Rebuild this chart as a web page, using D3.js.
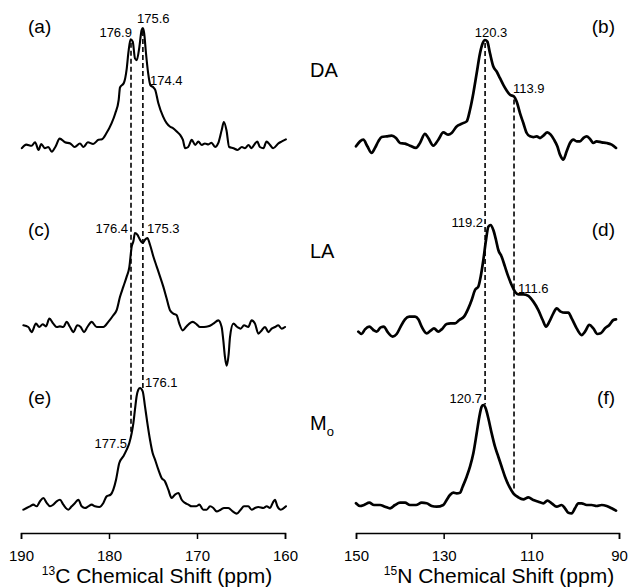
<!DOCTYPE html>
<html><head><meta charset="utf-8">
<script src="https://cdn.jsdelivr.net/npm/d3@7"></script>
<style>html,body{margin:0;padding:0;background:#fff;}svg{display:block;font-family:"Liberation Sans",Arial,Helvetica,sans-serif;}</style>
</head><body>
<svg id="chart" width="631" height="588"></svg>
<script>
// ---------- DATA ----------
const ticksC = [190, 180, 170, 160];
const ticksN = [150, 130, 110, 90];
const titleC = ["13", "C Chemical Shift (ppm)"];
const titleN = ["15", "N Chemical Shift (ppm)"];
const rowLabels = ["DA", "LA", "M"];
const panelLetters = ["(a)", "(b)", "(c)", "(d)", "(e)", "(f)"];

// [ppm, relative intensity]
const specA = [[189.9,-1],[189.4,2],[188.8,1],[188.4,4],[188.0,-2.5],[187.7,2.5],[187.3,-1],[186.9,0],[186.5,-4],[186.1,0],[185.6,7],[185.0,4],[184.4,3],[183.9,0],[183.3,3],[182.9,0],[182.4,4],[181.8,2.5],[181.2,6],[180.8,6.5],[180.3,11.5],[179.7,20],[179.3,28],[178.9,39.5],[178.75,50],[178.3,54],[178.0,65],[177.8,79],[177.55,90.5],[177.3,88.5],[177.05,74.5],[176.85,73],[176.55,84],[176.3,98],[176.15,100],[176.0,95.5],[175.8,79],[175.55,62],[175.3,52],[174.95,50],[174.75,48],[174.4,37],[173.85,25.5],[173.45,20],[173.05,17],[172.7,15.7],[172.3,13],[171.9,10],[171.6,6],[171.35,-1],[171.0,0],[170.6,6],[170.2,1.7],[169.85,4.5],[169.45,1.7],[169.1,3],[168.7,2.2],[168.35,3.6],[167.95,0],[167.6,3],[167.2,14],[166.95,21],[166.65,14],[166.35,0],[165.85,-1],[165.4,-2.5],[164.9,0],[164.55,-1],[164.15,1.7],[163.8,-1],[163.4,3],[163.15,4.5],[162.85,0],[162.45,-1],[162.1,4.5],[161.7,1.7],[161.35,-1],[160.75,3],[160.4,4.5],[159.9,6.4]];

const specC = [[189.73,1.8],[189.17,0],[188.79,-5.4],[188.3,3.6],[187.92,0],[187.54,2.9],[187.16,0.7],[186.78,8.9],[186.33,3.6],[185.95,0],[185.57,0.7],[185.19,0],[184.81,5.4],[184.43,0],[184.05,-5.4],[183.6,1.8],[183.22,0],[182.84,-5.4],[182.46,0],[181.97,5.4],[181.4,0],[180.64,0],[180.08,5.4],[179.51,12.5],[179.13,17.9],[178.75,32.1],[178.37,42.9],[177.99,53.6],[177.69,63.6],[177.42,85.7],[177.23,91.1],[177.05,100],[176.78,98.2],[176.48,92.9],[176.17,89.3],[175.91,92.9],[175.64,94.6],[175.34,87.5],[174.96,75],[174.58,64.3],[174.2,53.6],[173.83,42.9],[173.45,30.4],[173.07,17.9],[172.69,14.3],[172.31,12.5],[172.01,3.6],[171.63,-3.6],[171.25,0],[170.87,3.6],[170.49,5.4],[170.04,2.9],[169.66,0],[169.2,0],[168.71,0.7],[168.14,3.6],[167.58,7.1],[167.2,0],[167.01,-14.3],[166.82,-32.1],[166.63,-41.1],[166.4,-28.6],[166.25,-10.7],[165.87,3.6],[165.42,0],[165.04,-1.8],[164.66,1.8],[164.17,0],[163.79,7.1],[163.41,3.6],[163.03,-7.1],[162.65,-3.6],[162.27,0],[161.89,-5.4],[161.52,-1.8],[161.14,0],[160.76,1.8],[160.38,-1.8],[160.0,0]];

const specE = [[189.73,-1.4],[189.36,0],[188.98,1.4],[188.6,2.8],[188.22,1.4],[187.84,5.6],[187.46,8.3],[187.08,4.2],[186.7,1.4],[186.33,2.8],[185.95,5.6],[185.57,6.9],[185.19,2.8],[184.62,-1.4],[184.24,1.4],[183.86,4.2],[183.48,6.9],[183.11,1.4],[182.73,0],[182.35,1.4],[181.97,2.8],[181.59,1.4],[181.1,0.8],[180.64,4.2],[180.27,9.7],[179.81,11.1],[179.51,15.3],[179.2,23.6],[178.83,37.5],[178.37,43.1],[177.99,48.6],[177.69,54.2],[177.42,62.5],[177.23,70.8],[177.05,81.9],[176.86,93.1],[176.67,98.6],[176.48,100],[176.17,97.2],[175.91,84.7],[175.64,70.8],[175.34,56.9],[175.04,45.8],[174.77,40.3],[174.39,31.9],[174.02,25],[173.64,22.2],[173.26,15.3],[172.88,8.3],[172.5,11.1],[172.12,12.5],[171.74,6.9],[171.36,4.2],[170.98,2.8],[170.61,1.4],[170.11,1.4],[169.73,2.8],[169.28,-1.4],[168.9,-1.4],[168.52,1.4],[168.14,0],[167.77,-2.8],[167.31,-1.4],[166.93,0],[166.44,0],[165.95,-2.8],[165.49,-4.7],[165.04,-1.4],[164.66,1.4],[164.17,1.4],[163.79,-1.4],[163.41,0],[163.03,0.8],[162.46,0],[162.08,1.4],[161.7,0],[161.4,4.2],[161.14,6.9],[160.87,1.4],[160.49,-1.4],[159.89,1.4]];

const specB = [[150.0,-3.2],[149.09,1.6],[148.33,3.2],[147.41,-3.2],[146.43,-9.7],[145.67,-4.8],[144.91,1.6],[144.14,5.8],[143.0,6.5],[141.86,7.1],[140.87,4.8],[139.96,0],[138.82,-0.6],[137.68,-2.6],[136.31,-4.8],[135.4,0],[134.26,9.0],[133.5,4.8],[132.36,-2.6],[131.22,3.2],[130.08,10.3],[128.94,8.1],[128.18,9.7],[127.04,16.1],[125.89,18.7],[124.75,21.0],[123.99,32.3],[123.23,48.4],[122.47,67.7],[121.71,87.1],[121.1,96.8],[120.57,100],[120.04,98.4],[119.43,87.1],[118.67,74.2],[117.91,69.4],[117.15,62.9],[116.39,56.5],[115.63,51.0],[114.87,46.8],[113.95,45.2],[113.35,40.3],[112.59,29.0],[111.83,19.4],[111.06,9.7],[110.3,6.5],[109.54,5.8],[108.78,6.5],[108.02,4.8],[107.26,7.1],[106.35,10.3],[105.59,8.1],[104.83,3.2],[104.07,-3.2],[103.46,-11.3],[102.7,-16.1],[101.94,-8.1],[101.18,0],[100.42,3.2],[99.65,1.6],[98.89,1.6],[98.14,4.8],[97.38,6.5],[96.62,3.9],[95.86,0],[95.1,1.6],[93.95,0.6],[92.81,0],[91.67,-1.6],[90.68,-4.8]];

const specD = [[149.47,-1.6],[148.71,-3.8],[147.95,0.6],[146.96,3.2],[146.05,0],[145.29,-1.6],[144.37,2.5],[143.61,3.2],[142.85,-1.6],[141.63,-6.3],[140.72,-3.8],[139.81,3.2],[138.82,10.2],[137.83,12.7],[136.54,12.7],[135.78,10.2],[135.02,3.2],[133.88,-3.2],[132.97,-0.6],[132.21,1.6],[131.22,-1.6],[130.46,0.6],[129.32,5.7],[128.4,6.3],[127.41,6.3],[126.43,9.5],[125.36,12.7],[124.37,20.6],[123.61,28.6],[122.85,38.1],[122.09,41.3],[121.56,50.8],[120.95,66.7],[120.34,85.7],[119.81,98.4],[119.28,100],[118.67,95.2],[118.06,85.7],[117.53,76.2],[116.77,69.8],[116.01,60.3],[115.25,50.8],[114.49,42.9],[113.73,36.5],[112.97,34.0],[111.83,34.0],[110.68,32.4],[109.54,27.0],[108.4,19.0],[107.41,9.5],[106.65,3.2],[105.89,7.9],[104.98,15.9],[104.22,20.6],[103.31,17.5],[102.32,16.5],[101.56,16.5],[100.8,11.1],[99.66,1.6],[98.52,-4.8],[97.76,-1.6],[96.77,4.8],[95.86,1.6],[94.94,-3.8],[94.18,-3.2],[93.19,1.6],[92.21,4.8],[91.29,9.5],[90.68,10.2]];

const specF = [[150.0,1.7],[149.09,-1],[148.17,0],[146.96,2.3],[145.89,0],[144.52,0],[143.38,-1.7],[142.24,-3.3],[141.1,0],[139.96,2.3],[138.82,2.3],[137.68,0],[136.31,0],[135.02,2.3],[133.88,1.7],[132.74,-1],[131.6,-1.7],[130.08,0],[129.32,5],[128.56,10],[127.79,12.3],[127.03,11.7],[126.27,12.3],[125.67,18.3],[124.75,28.3],[123.99,38.3],[123.23,51.7],[122.47,71.7],[121.86,88.3],[121.33,98.3],[120.95,100],[120.42,96.7],[119.81,86.7],[119.05,71.7],[118.29,58.3],[117.53,48.3],[116.77,38.3],[116.01,28.3],[115.02,18.3],[114.11,11.7],[112.97,7.7],[111.83,5.7],[110.68,7.7],[109.54,5],[108.4,3.3],[107.26,1.7],[106.35,4.3],[105.36,1.7],[104.22,-1.7],[103.08,0],[102.32,-3.3],[101.56,-7.7],[100.8,-8.3],[100.04,-3.3],[99.28,1.7],[98.52,1.7],[97.38,0],[96.24,0],[95.1,-1],[93.95,0],[92.81,-1],[91.67,-3.3],[90.68,-5.7]];

// peak annotations: text, anchor ppm, anchor intensity, text-anchor
const labelsA = [["176.9",177.39,92.4,"end"],["175.6",176.82,104.2,"start"],["174.4",175.34,52.1,"start"]];
const labelsC = [["176.4",177.84,100,"end"],["175.3",175.68,100,"start"]];
const labelsE = [["176.1",175.91,100.8,"start"],["177.5",177.95,50,"end"]];
const labelsB = [["120.3",119.2,102.9,"middle"],["113.9",114.18,48.5,"start"]];
const labelsD = [["119.2",121.02,98.1,"end"],["111.6",113.04,35.2,"start"]];
const labelsF = [["120.7",121.25,102,"end"]];

// dashed reference lines (ppm)
const dashC = [177.5, 176.15];
const dashN = [120.55, 113.95];

// ---------- DRAWING ----------
const svg = d3.select("#chart");
const xC = d3.scaleLinear().domain([190, 160]).range([21, 285]);
const xN = d3.scaleLinear().domain([150, 90]).range([356, 619]);

const panels = [
  {spec: specA, x: xC, y: d3.scaleLinear().domain([0,100]).range([147, 28]), lw: 2.1, labels: labelsA},
  {spec: specB, x: xN, y: d3.scaleLinear().domain([0,100]).range([143, 40]), lw: 2.7, labels: labelsB},
  {spec: specC, x: xC, y: d3.scaleLinear().domain([0,100]).range([327, 233]), lw: 2.1, labels: labelsC},
  {spec: specD, x: xN, y: d3.scaleLinear().domain([0,100]).range([330, 225]), lw: 2.7, labels: labelsD},
  {spec: specE, x: xC, y: d3.scaleLinear().domain([0,100]).range([508, 388]), lw: 2.1, labels: labelsE},
  {spec: specF, x: xN, y: d3.scaleLinear().domain([0,100]).range([505, 405]), lw: 2.7, labels: labelsF}
];

function interp(spec, ppm) {
  for (let i = 0; i < spec.length - 1; i++) {
    const a = spec[i], b = spec[i+1];
    if ((a[0] >= ppm && b[0] <= ppm)) {
      const t = (a[0] - ppm) / (a[0] - b[0]);
      return a[1] + t * (b[1] - a[1]);
    }
  }
  return 0;
}

// dashed lines (drawn first, under traces)
function dashes(list, top, bottom) {
  list.forEach(p => {
    const x = top.x(p);
    svg.append("line")
      .attr("x1", x).attr("x2", x)
      .attr("y1", top.y(interp(top.spec, p)) + 3)
      .attr("y2", bottom.y(interp(bottom.spec, p)) - 3)
      .attr("stroke", "#000").attr("stroke-width", 1.6)
      .attr("stroke-dasharray", "5,3");
  });
}
dashes(dashC, panels[0], panels[4]);
dashes(dashN, panels[1], panels[5]);

panels.forEach(p => {
  const line = d3.line().x(d => p.x(d[0])).y(d => p.y(d[1])).curve(d3.curveMonotoneX);
  svg.append("path").datum(p.spec).attr("d", line)
    .attr("fill", "none").attr("stroke", "#000")
    .attr("stroke-width", p.lw).attr("stroke-linejoin", "round").attr("stroke-linecap", "round");
  p.labels.forEach(l => {
    svg.append("text").attr("x", p.x(l[1])).attr("y", p.y(l[2]))
      .attr("text-anchor", l[3]).attr("font-size", 13).attr("fill", "#000").text(l[0]);
  });
});

// panel letters
const letterY = [33, 33, 236, 236, 404, 404];
panelLetters.forEach((t, i) => {
  const left = i % 2 === 0;
  svg.append("text").attr("x", left ? 28 : 615).attr("y", letterY[i])
    .attr("text-anchor", left ? "start" : "end").attr("font-size", 19).text(t);
});

// row labels
svg.append("text").attr("x", 310).attr("y", 77).attr("font-size", 20).text(rowLabels[0]);
svg.append("text").attr("x", 310).attr("y", 258).attr("font-size", 20).text(rowLabels[1]);
const mo = svg.append("text").attr("x", 310).attr("y", 430).attr("font-size", 20);
mo.append("tspan").text(rowLabels[2]);
mo.append("tspan").attr("font-size", 13).attr("dy", 6).text("o");

// axes
function axis(x, ticks, title, cx) {
  const g = svg.append("g").attr("transform", "translate(0,533)")
    .call(d3.axisBottom(x).tickValues(ticks).tickFormat(d3.format("d")).tickSize(6).tickPadding(11));
  g.select(".domain").attr("stroke-width", 1.5);
  g.selectAll(".tick line").attr("stroke-width", 1.5);
  g.selectAll(".tick text").attr("font-size", 15).attr("font-family", "Liberation Sans, Arial, sans-serif").attr("fill", "#000");
  const t = svg.append("text").attr("x", cx).attr("y", 583).attr("text-anchor", "middle").attr("font-size", 21);
  t.append("tspan").attr("font-size", 12).attr("dy", -8).text(title[0]);
  t.append("tspan").attr("dy", 8).text(title[1]);
}
axis(xC, ticksC, titleC, 157);
axis(xN, ticksN, titleN, 499);
</script>
</body></html>
